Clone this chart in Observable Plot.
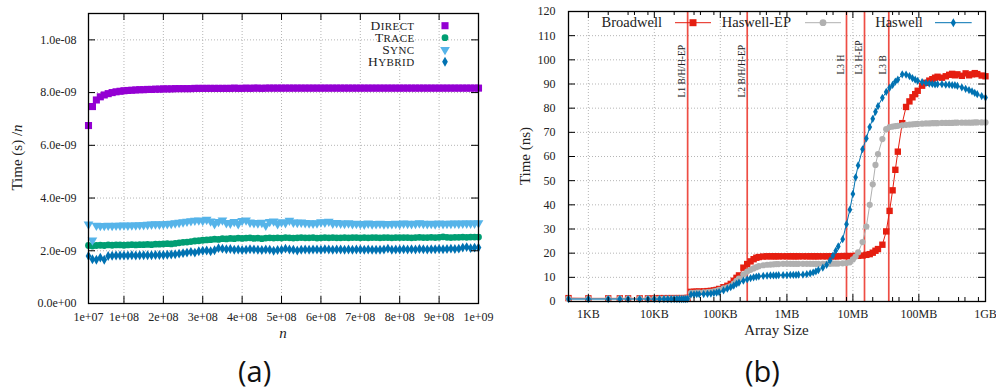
<!DOCTYPE html>
<html><head><meta charset="utf-8">
<script src="https://cdn.jsdelivr.net/npm/d3@7"></script>
<script src="https://cdn.jsdelivr.net/npm/@observablehq/plot@0.6"></script>
<style>
body{margin:0;background:#fff;}
#wrap{position:relative;width:996px;height:392px;overflow:hidden;background:#fff;}
#pa{position:absolute;left:0;top:0;}
#pb{position:absolute;left:498px;top:0;}
.cap{position:absolute;top:351px;font-family:"Open Sans",sans-serif;font-size:29px;color:#111;line-height:normal;}
</style></head><body>
<div id="wrap"><div id="pa"></div><div id="pb"></div>
<div class="cap" style="left:238px">(a)</div><div class="cap" style="left:745px">(b)</div></div>
<script>
// ---------- (a) data: n in units of 1e7, times per n in units of 1e-9 s ----------
const nA = [1,2,3,4,5,6,7,8,9,10,11,12,13,14,15,16,17,18,19,20,21,22,23,24,25,26,27,28,29,30,31,32,33,34,35,36,37,38,39,40,41,42,43,44,45,46,47,48,49,50,51,52,53,54,55,56,57,58,59,60,61,62,63,64,65,66,67,68,69,70,71,72,73,74,75,76,77,78,79,80,81,82,83,84,85,86,87,88,89,90,91,92,93,94,95,96,97,98,99,100];
const directA = [6.75,7.47,7.72,7.84,7.91,7.96,8.00,8.03,8.05,8.07,
 8.08,8.09,8.10,8.11,8.11,8.12,8.12,8.13,8.13,8.14,
 8.14,8.14,8.15,8.15,8.15,8.15,8.15,8.16,8.16,8.16,
 8.16,8.16,8.16,8.16,8.16,8.16,8.16,8.17,8.16,8.16,
 8.17,8.16,8.17,8.17,8.16,8.17,8.17,8.17,8.17,8.17,
 8.17,8.17,8.17,8.17,8.17,8.17,8.17,8.17,8.17,8.17,
 8.17,8.17,8.17,8.17,8.17,8.17,8.17,8.17,8.17,8.17,
 8.17,8.17,8.17,8.17,8.17,8.17,8.17,8.17,8.17,8.17,
 8.17,8.17,8.17,8.17,8.17,8.17,8.17,8.17,8.17,8.17,
 8.17,8.17,8.17,8.17,8.17,8.17,8.17,8.17,8.17,8.17];
const traceA = [2.20,2.18,2.20,2.21,2.20,2.22,2.21,2.22,2.22,2.21,
 2.22,2.23,2.22,2.23,2.23,2.24,2.23,2.25,2.25,2.26,
 2.27,2.26,2.28,2.30,2.32,2.33,2.35,2.37,2.38,2.40,
 2.41,2.42,2.44,2.43,2.46,2.45,2.47,2.46,2.48,2.47,
 2.48,2.49,2.47,2.48,2.46,2.48,2.49,2.48,2.49,2.48,
 2.50,2.49,2.48,2.49,2.50,2.49,2.49,2.50,2.48,2.49,
 2.50,2.49,2.50,2.49,2.49,2.50,2.49,2.50,2.50,2.49,
 2.50,2.49,2.50,2.50,2.49,2.50,2.50,2.49,2.50,2.50,
 2.50,2.50,2.49,2.50,2.51,2.50,2.50,2.51,2.50,2.51,
 2.53,2.51,2.50,2.51,2.51,2.52,2.51,2.52,2.52,2.52];
const syncA = [3.00,2.40,2.96,2.95,2.95,2.96,2.95,2.96,2.96,2.97,
 2.96,2.97,2.97,2.98,2.98,2.99,3.00,3.01,3.00,3.01,
 3.02,3.03,3.05,3.07,3.09,3.11,3.13,3.15,3.16,3.14,
 3.18,3.12,3.02,3.10,3.16,3.06,3.04,3.10,3.02,3.14,
 3.16,3.08,3.06,3.05,3.07,2.96,3.10,3.12,3.02,3.09,
 3.06,3.15,3.08,3.07,3.08,3.06,3.05,3.04,3.05,3.09,
 3.08,3.11,3.04,3.06,3.04,3.03,3.05,3.02,3.03,3.02,
 3.00,3.04,3.01,3.02,3.03,3.01,3.02,3.02,3.03,3.01,
 3.04,3.03,3.02,3.03,3.05,3.03,3.02,3.03,3.01,3.04,
 3.02,3.03,3.03,3.04,3.03,3.04,3.04,3.04,3.04,3.05];
const hybridA = [1.80,1.68,1.66,1.74,1.66,1.80,1.81,1.82,1.82,1.82,
 1.82,1.83,1.82,1.83,1.83,1.83,1.83,1.84,1.84,1.84,
 1.85,1.86,1.87,1.89,1.91,1.93,1.96,1.93,1.98,2.00,
 2.01,1.98,2.02,2.10,2.08,2.06,2.07,2.04,2.05,2.03,
 2.04,2.06,2.05,2.04,2.03,2.05,2.04,2.00,2.03,2.04,
 2.08,2.05,2.04,2.01,2.04,2.05,2.04,2.05,2.05,2.04,
 2.06,2.05,2.04,2.05,2.05,2.04,2.05,2.04,2.05,2.05,
 2.04,2.05,2.04,2.04,2.04,2.05,2.08,2.04,2.05,2.05,
 2.06,2.05,2.06,2.05,2.07,2.06,2.05,2.06,2.06,2.07,
 2.06,2.07,2.08,2.07,2.08,2.12,2.14,2.10,2.12,2.12];
const seriesA = ["Direct","Trace","Sync","Hybrid"];
const colorsA = ["#9400d3","#009e73","#56b4e9","#0072b2"];
const xTicksA = [1e7,1e8,2e8,3e8,4e8,5e8,6e8,7e8,8e8,9e8,1e9];
const xTickLabelsA = ["1e+07","1e+08","2e+08","3e+08","4e+08","5e+08","6e+08","7e+08","8e+08","9e+08","1e+09"];
const yTicksA = [0,2e-9,4e-9,6e-9,8e-9,1e-8];
const yTickLabelsA = ["0.0e+00","2.0e-09","4.0e-09","6.0e-09","8.0e-09","1.0e-08"];

// ---------- (b) data: array size in KB, latency in ns ----------
const sizeKB = [0.5,1,2,3,4,6,8,10,12,14,16,18,20,22,24,26,28,30,32,
 36,40,44,48,56,
 64,72,80,88,96,112,
 128,144,160,176,192,224,
 256,288,320,352,384,448,
 512,576,640,704,768,896,
 1024,1152,1280,1408,1536,1792,
 2048,2304,2560,2816,3072,3584,
 4096,4608,5120,5632,6144,7168,
 8192,9216,10240,11264,12288,14336,
 16384,18432,20480,22528,24576,28672,
 32768,36864,40960,45056,49152,57344,
 65536,73728,81920,90112,98304,114688,
 131072,147456,163840,180224,196608,229376,
 262144,294912,327680,360448,393216,458752,
 524288,589824,655360,720896,786432,917504,
 1048576];
const broadwell = [1.4,1.3,1.3,1.3,1.3,1.3,1.3,1.3,1.4,1.4,1.4,1.4,1.4,1.4,1.4,1.4,1.4,1.4,1.5,
 4.0,4.0,4.1,4.1,4.2,
 4.3,4.4,4.6,4.8,5.2,5.9,
 6.5,7.3,8.6,9.8,10.8,14.0,
 15.5,16.6,17.5,18.1,18.4,18.6,
 18.7,18.7,18.7,18.7,18.7,18.7,
 18.7,18.7,18.7,18.7,18.7,18.7,
 18.7,18.7,18.7,18.7,18.7,18.7,
 18.7,18.7,18.7,18.7,18.7,18.8,
 18.8,18.8,18.8,18.9,18.9,19.0,
 19.3,19.6,20.2,21.0,21.7,23.5,
 29.0,37.5,46.0,54.5,62.0,73.8,
 80.5,82.8,84.5,85.8,87.2,89.3,
 90.5,91.4,92.0,92.6,93.0,92.6,
 93.2,93.8,94.2,93.6,94.0,93.4,
 94.4,93.6,94.0,94.5,94.1,93.5,
 93.2];
const haswellEP = [1.2,1.2,1.2,1.2,1.2,1.2,1.2,1.2,1.2,1.2,1.2,1.2,1.2,1.2,1.2,1.2,1.2,1.2,1.3,
 3.6,3.6,3.7,3.7,3.8,
 3.9,4.0,4.2,4.4,4.8,5.4,
 5.9,6.4,7.4,8.5,9.5,11.2,
 12.4,13.1,13.7,14.2,14.6,15.0,
 15.2,15.3,15.4,15.5,15.5,15.6,
 15.6,15.6,15.6,15.6,15.6,15.6,
 15.6,15.6,15.6,15.6,15.6,15.6,
 15.6,15.6,15.7,15.7,15.7,15.8,
 15.9,16.2,17.4,18.6,20.3,24.6,
 31.0,40.0,48.5,56.5,61.0,67.2,
 71.3,72.2,72.4,72.6,72.7,72.9,
 73.1,73.2,73.3,73.4,73.5,73.6,
 73.7,73.7,73.8,73.8,73.8,73.9,
 73.9,73.9,73.9,74.0,74.0,74.0,
 74.0,74.0,74.0,74.1,74.1,74.1,
 74.1];
const haswell = [1.0,1.0,1.0,1.0,1.0,1.0,1.0,1.0,1.0,1.0,1.0,1.0,1.0,1.0,1.0,1.0,1.0,1.0,1.1,
 2.9,2.9,3.0,3.0,3.1,
 3.2,3.3,3.5,3.7,3.9,4.6,
 5.3,5.9,6.6,7.3,7.8,8.6,
 9.2,9.7,10.0,10.2,10.4,10.6,
 10.7,10.8,10.8,10.8,10.9,10.9,
 10.9,11.0,11.0,11.0,11.1,11.1,
 11.3,11.6,12.0,12.5,13.0,14.0,
 15.2,17.0,19.0,21.0,22.8,25.8,
 32.0,38.0,44.5,51.4,56.3,63.0,
 67.5,72.2,75.6,78.5,80.8,84.3,
 86.7,88.4,89.6,91.0,91.8,94.0,
 93.9,93.3,92.4,91.8,91.3,90.8,
 90.4,90.2,90.0,89.8,89.9,89.9,
 89.7,89.7,89.5,89.5,89.2,88.6,
 88.0,87.5,86.9,86.3,85.8,85.0,
 84.4];
const seriesB = ["Broadwell","Haswell-EP","Haswell"];
const colorsB = ["#e51e10","#b0b0b0","#0072b2"];
const xTicksB = [1,10,100,1024,10240,102400,1048576];
const xTickLabelsB = ["1KB","10KB","100KB","1MB","10MB","100MB","1GB"];
const xMinorB = [2,4,5,8,20,40,50,80,200,400,500,800,2048,4096,5120,8192,20480,40960,51200,81920,204800,409600,512000,819200];
const yTicksB = [0,10,20,30,40,50,60,70,80,90,100,110,120];
const yTickLabelsB = ["0","10","20","30","40","50","60","70","80","90","100","110","120"];
const cacheKB = [32,256,8192,15360,35840];
const cacheLabels = ["L1 B/H/H-EP","L2 B/H/H-EP","L3 H","L3 H-EP","L3 B"];

// ---------- build ----------
const W = 498, H = 345;
const FONT = "'Liberation Serif', 'DejaVu Serif', serif";

function frameTicksX(ticks, plotH, len) {
  return [Plot.ruleX(ticks, {x: d => d, insetTop: plotH - len, stroke: "#000"}),
          Plot.ruleX(ticks, {x: d => d, insetBottom: plotH - len, stroke: "#000"})];
}
function frameTicksY(ticks, plotW, len) {
  return [Plot.ruleY(ticks, {y: d => d, insetRight: plotW - len, stroke: "#000"}),
          Plot.ruleY(ticks, {y: d => d, insetLeft: plotW - len, stroke: "#000"})];
}
function tickLabelsX(ticks, labels, dy) {
  return Plot.text(ticks, {x: d => d, text: d => labels[ticks.indexOf(d)], frameAnchor: "bottom", dy, lineAnchor: "bottom", fontFamily: FONT, fontSize: 12, fill: "#222"});
}
function tickLabelsY(ticks, labels, dx) {
  return Plot.text(ticks, {y: d => d, text: d => labels[ticks.indexOf(d)], frameAnchor: "left", dx: -dx, textAnchor: "end", fontFamily: FONT, fontSize: 12, fill: "#222"});
}
const grid = {stroke: "#b5b5b5", strokeDasharray: "1,2", strokeWidth: 1};

// (a)
const rowsA = [];
[directA, traceA, syncA, hybridA].forEach((arr, k) => arr.forEach((v, i) => rowsA.push({n: nA[i] * 1e7, t: v * 1e-9, s: seriesA[k]})));
const symA = [
  {symbol: "square", r: 4.0},
  {symbol: "circle", r: 3.4},
  {symbol: "triangle", r: 3.6, rotate: 180},
  {symbol: "diamond", r: 3.0}
];
const mLA = 88, mRA = 20, mTA = 13, mBA = 42;
const pwA = W - mLA - mRA, phA = H - mTA - mBA;
const plotA = Plot.plot({
  width: W, height: H, marginLeft: mLA, marginRight: mRA, marginTop: mTA, marginBottom: mBA,
  style: {fontFamily: FONT, fontSize: "12px", color: "#222", background: "#fff"},
  x: {domain: [1e7, 1e9], axis: null},
  y: {domain: [0, 1.1e-8], axis: null},
  marks: [
    Plot.ruleX(xTicksA, {x: d => d, ...grid}),
    Plot.ruleY(yTicksA, {y: d => d, ...grid}),
    ...seriesA.map((s, k) => Plot.dot(rowsA.filter(d => d.s === s), {x: "n", y: "t", fill: colorsA[k], stroke: "none", ...symA[k]})),
    ...frameTicksX(xTicksA, phA, 7),
    ...frameTicksY(yTicksA, pwA, 7),
    Plot.frame({stroke: "#000", strokeWidth: 1.3}),
    tickLabelsX(xTicksA, xTickLabelsA, 17),
    tickLabelsY(yTicksA, yTickLabelsA, 12)
  ]
});
document.getElementById("pa").appendChild(plotA);

// (b)
const rowsB = [];
[broadwell, haswellEP, haswell].forEach((arr, k) => arr.forEach((v, i) => rowsB.push({kb: sizeKB[i], ns: v, s: seriesB[k]})));
const symB = [
  {symbol: "square", r: 3.6},
  {symbol: "circle", r: 3.1},
  {symbol: "diamond", r: 2.5}
];
const cacheRows = cacheKB.map((kb, i) => ({kb, label: cacheLabels[i], l3: cacheLabels[i].startsWith("L3")}));
const mLB = 70, mRB = 11, mTB = 11, mBB = 44;
const pwB = W - mLB - mRB, phB = H - mTB - mBB;
const plotB = Plot.plot({
  width: W, height: H, marginLeft: mLB, marginRight: mRB, marginTop: mTB, marginBottom: mBB,
  style: {fontFamily: FONT, fontSize: "12px", color: "#222", background: "#fff"},
  x: {type: "log", domain: [0.5, 1048576], axis: null},
  y: {domain: [0, 120], axis: null},
  marks: [
    Plot.ruleX(xTicksB, {x: d => d, ...grid}),
    Plot.ruleY(yTicksB, {y: d => d, ...grid}),
    Plot.ruleX(cacheRows, {x: "kb", stroke: "#ec3a30", strokeWidth: 1.7, strokeOpacity: 0.9}),
    Plot.text(cacheRows.filter(d => !d.l3), {x: "kb", frameAnchor: "top", dy: 86, text: "label", rotate: -90, textAnchor: "start", lineAnchor: "bottom", dx: -2.5, fontFamily: FONT, fontSize: 9.5, fill: "#222"}),
    Plot.text(cacheRows.filter(d => d.l3), {x: "kb", frameAnchor: "top", dy: 63, text: "label", rotate: -90, textAnchor: "start", lineAnchor: "bottom", dx: -2.5, fontFamily: FONT, fontSize: 9.5, fill: "#222"}),
    ...seriesB.flatMap((s, k) => [
      Plot.line(rowsB.filter(d => d.s === s), {x: "kb", y: "ns", stroke: colorsB[k], strokeWidth: 1}),
      Plot.dot(rowsB.filter(d => d.s === s), {x: "kb", y: "ns", fill: colorsB[k], stroke: "none", ...symB[k]})
    ]),
    ...frameTicksX(xTicksB, phB, 7),
    ...frameTicksX(xMinorB, phB, 4),
    ...frameTicksY(yTicksB, pwB, 7),
    Plot.frame({stroke: "#000", strokeWidth: 1.3}),
    tickLabelsX(xTicksB, xTickLabelsB, 16),
    tickLabelsY(yTicksB, yTickLabelsB, 13)
  ]
});
document.getElementById("pb").appendChild(plotB);

// ---------- labels and legends ----------
const svgA = d3.select(plotA.tagName.toLowerCase() === "svg" ? plotA : plotA.querySelector("svg"));
const svgB = d3.select(plotB.tagName.toLowerCase() === "svg" ? plotB : plotB.querySelector("svg"));

svgA.append("text").attr("transform", "translate(21.5,157.5) rotate(-90)")
  .attr("text-anchor", "middle").style("font-family", FONT).style("font-size", "15px").attr("fill", "#222")
  .html('Time (s) /<tspan font-style="italic">n</tspan>');
svgA.append("text").attr("x", mLA + pwA / 2).attr("y", 338).attr("text-anchor", "middle")
  .style("font-family", FONT).style("font-size", "15px").style("font-style", "italic").attr("fill", "#222").text("n");

const symType = {square: d3.symbolSquare, circle: d3.symbolCircle, triangle: d3.symbolTriangle, diamond: d3.symbolDiamond};
seriesA.forEach((s, i) => {
  const cy = 25.7 + 12 * i;
  const t = svgA.append("text").attr("x", 414.5).attr("y", cy + 4.5).attr("text-anchor", "end")
    .style("font-family", FONT).style("font-size", "11px").style("letter-spacing", "0.4px").attr("fill", "#222");
  t.append("tspan").style("font-size", "13.5px").text(s[0]);
  t.append("tspan").text(s.slice(1).toUpperCase());
  const sy = symA[i];
  svgA.append("path").attr("d", d3.symbol(symType[sy.symbol], Math.PI * sy.r * sy.r)())
    .attr("transform", `translate(445,${cy})` + (sy.rotate ? ` rotate(${sy.rotate})` : "")).attr("fill", colorsA[i]);
});

svgB.append("text").attr("transform", "translate(32,156) rotate(-90)")
  .attr("text-anchor", "middle").style("font-family", FONT).style("font-size", "15px").attr("fill", "#222").text("Time (ns)");
svgB.append("text").attr("x", mLB + pwB / 2).attr("y", 335).attr("text-anchor", "middle")
  .style("font-family", FONT).style("font-size", "15px").attr("fill", "#222").text("Array Size");

const legB = [{tx: 164, x1: 177, x2: 213}, {tx: 293, x1: 307, x2: 343}, {tx: 424.7, x1: 437, x2: 473.7}];
seriesB.forEach((s, i) => {
  const cy = 22.7, L = legB[i];
  svgB.append("text").attr("x", L.tx).attr("y", cy + 4.6).attr("text-anchor", "end")
    .style("font-family", FONT).style("font-size", "14.5px").attr("fill", "#222").text(s);
  svgB.append("line").attr("x1", L.x1).attr("x2", L.x2).attr("y1", cy).attr("y2", cy).attr("stroke", colorsB[i]).attr("stroke-width", 1);
  const sy = symB[i];
  svgB.append("path").attr("d", d3.symbol(symType[sy.symbol], Math.PI * sy.r * sy.r * 1.2)())
    .attr("transform", `translate(${(L.x1 + L.x2) / 2},${cy})`).attr("fill", colorsB[i]);
});
</script>
</body></html>
